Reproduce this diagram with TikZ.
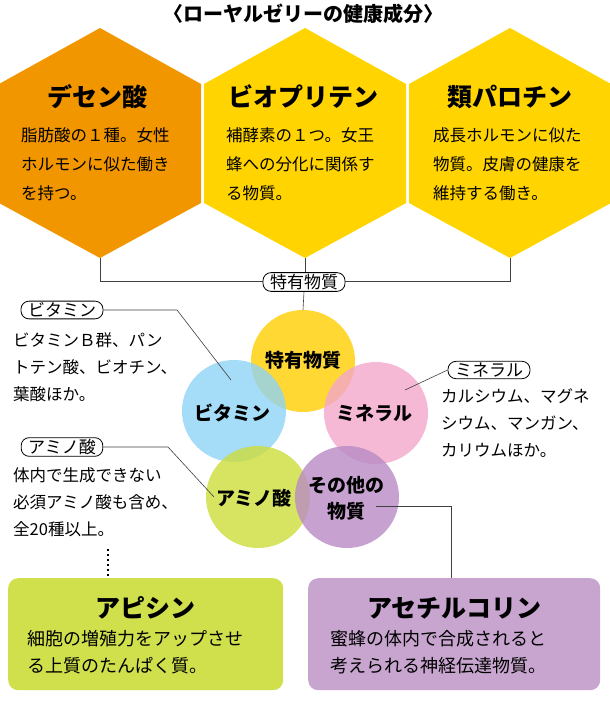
\documentclass[tikz,border=0pt]{standalone}
\usepackage{fontspec}
\usetikzlibrary{shapes.geometric}
\setmainfont{Noto Sans CJK JP}
\begin{document}
\begin{tikzpicture}[x=1pt,y=-1pt,
  hexbody/.style={font=\fontsize{16.5}{29}\selectfont,anchor=north west,align=left,inner sep=0},
  hextitle/.style={font=\fontsize{25}{27}\selectfont\bfseries},
  tag/.style={draw,rounded corners=8pt,line width=0.8pt,font=\fontsize{17}{19}\selectfont,inner xsep=7pt,inner ysep=1.5pt,fill=white},
  note/.style={font=\fontsize{16.5}{27}\selectfont,anchor=north west,align=left,inner sep=0},
  con/.style={draw=black!75,line width=0.6pt},
  clab/.style={font=\fontsize{19}{26}\selectfont\bfseries,align=center},
  circ/.style={ellipse,minimum width=104pt,minimum height=102pt,fill opacity=0.8,inner sep=0}]
\useasboundingbox (0,0) rectangle (610,701);
\definecolor{hexO}{HTML}{F29600}
\definecolor{hexY}{HTML}{FFD400}
\definecolor{cY}{HTML}{FFCE00}
\definecolor{cB}{HTML}{8FD3F5}
\definecolor{cP}{HTML}{F3A6CB}
\definecolor{cG}{HTML}{CDDD3A}
\definecolor{cV}{HTML}{B98BC4}
\definecolor{boxG}{HTML}{CFE04C}
\definecolor{boxV}{HTML}{C7A5CF}
\node (title) at (303,14) {\fontsize{20}{22}\selectfont\bfseries 〈ローヤルゼリーの健康成分〉};
% hexagons
\foreach \cx/\col/\nm in {100/hexO/h1,305/hexY/h2,510/hexY/h3}{
  \fill[\col] (\cx,28) -- (\cx+101,84) -- (\cx+101,203) -- (\cx,258) -- (\cx-101,203) -- (\cx-101,84) -- cycle;
  \coordinate (\nm) at (\cx,258);
}
\node[hextitle] (t1) at (97,97) {デセン酸};
\node[hextitle] (t2) at (303,97) {ビオプリテン};
\node[hextitle] (t3) at (510,97) {類パロチン};
\node[hexbody] (b1) at (21,127) {脂肪酸の１種。女性\\ホルモンに似た働き\\を持つ。};
\node[hexbody] (b2) at (226,127) {補酵素の１つ。女王\\蜂への分化に関係す\\る物質。};
\node[hexbody] (b3) at (433,127) {成長ホルモンに似た\\物質。皮膚の健康を\\維持する働き。};
% circles
\node[circ,fill=cY] (cy) at (303,361) {};
\node[circ,fill=cB] (cb) at (234,411) {};
\node[circ,fill=cP] (cp) at (376,413) {};
\node[circ,fill=cG] (cg) at (258,497) {};
\node[circ,fill=cV] (cv) at (347,497) {};
\node[clab] (ly) at (303,360) {特有物質};
\node[clab] (lb) at (232,413) {ビタミン};
\node[clab] (lp) at (374,413) {ミネラル};
\node[clab] (lg) at (254,498) {アミノ酸};
\node[clab] (lv) at (346,498) {その他の\\物質};
% top connector
\coordinate (j1) at (100,281); \coordinate (j3) at (510,281);
\draw[con] (h1) -- (j1) -- (j3) -- (h3);
\draw[con] (h2) -- (305,281);
\node[tag] (tk) at (304,282) {特有物質};
\draw[con] (tk.south) -- (cy.north);
% callouts
\node[tag] (tv) at (62,310) {ビタミン};
\coordinate (v1) at (177,310); \coordinate (v2) at (231,380);
\draw[con] (tv.east) -- (v1) -- (v2);
\node[note] (nv) at (13,332) {ビタミンＢ群、パン\\トテン酸、ビオチン、\\葉酸ほか。};
\node[tag] (tm) at (489,370) {ミネラル};
\coordinate (m1) at (405,390);
\draw[con] (tm.west) -- (m1);
\node[note] (nm) at (441,388) {カルシウム、マグネ\\シウム、マンガン、\\カリウムほか。};
\node[tag] (ta) at (62,447) {アミノ酸};
\coordinate (a1) at (168,447); \coordinate (a2) at (214,497);
\draw[con] (ta.east) -- (a1) -- (a2);
\node[note] (na) at (13,467) {体内で生成できない\\必須アミノ酸も含め、\\全20種以上。};
% bottom boxes
\node[draw=none,fill=boxG,rounded corners=10pt,minimum width=275pt,minimum height=112pt,anchor=north west] (bg) at (8,578) {};
\node[draw=none,fill=boxV,rounded corners=10pt,minimum width=292pt,minimum height=112pt,anchor=north west] (bv) at (308,578) {};
\node[hextitle] (tg) at (145,608) {アピシン};
\node[hextitle] (tvv) at (454,608) {アセチルコリン};
\node[note,font=\fontsize{18}{27}\selectfont] (ng) at (27,630) {細胞の増殖力をアップさせ\\る上質のたんぱく質。};
\node[note,font=\fontsize{18}{27}\selectfont] (nvv) at (330,630) {蜜蜂の体内で合成されると\\考えられる神経伝達物質。};
\coordinate (d1) at (108,549);
\draw[line width=2.2pt,dash pattern=on 2.2pt off 2.8pt] (d1) -- (bg.north -| d1);
\coordinate (o1) at (376,506); \coordinate (o2) at (451,506);
\draw[con] (o1) -- (o2) -- (bv.north -| o2);
\end{tikzpicture}
\end{document}
